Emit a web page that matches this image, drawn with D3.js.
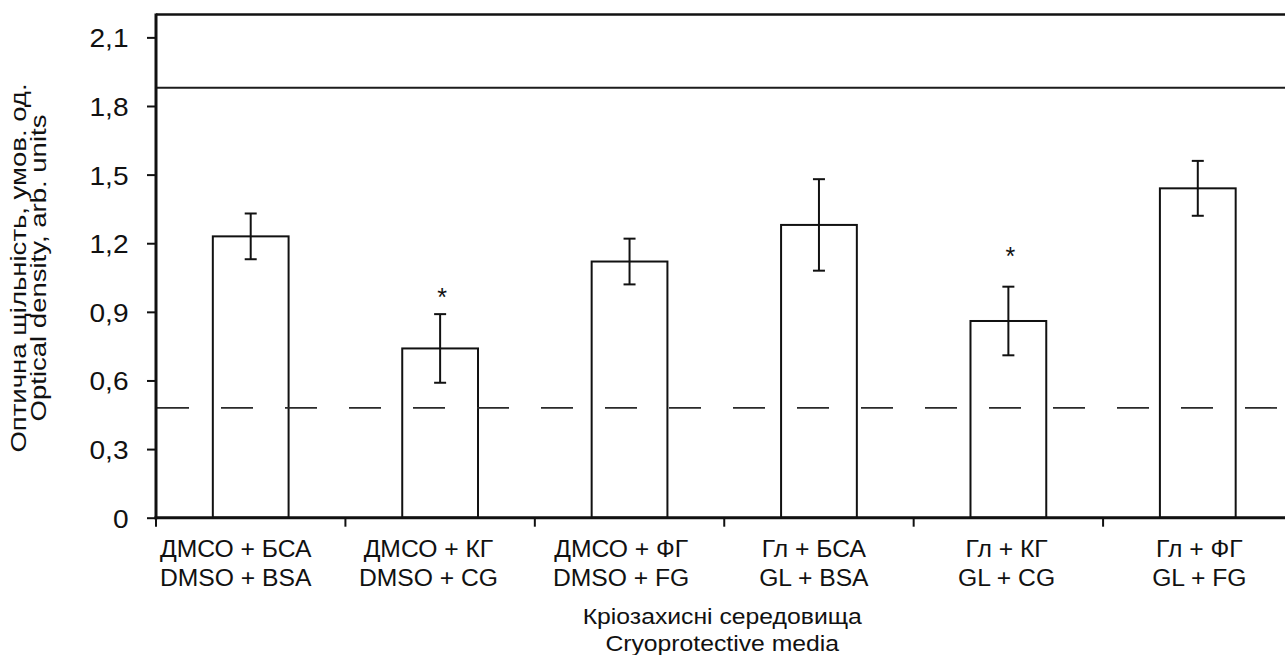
<!DOCTYPE html>
<html>
<head>
<meta charset="utf-8">
<script src="https://cdn.jsdelivr.net/npm/d3@7"></script>
<style>
  body { margin: 0; overflow: hidden; background: #fff; }
  svg { display: block; font-family: "Liberation Sans", Arial, sans-serif; }
</style>
</head>
<body>
<svg id="chart" width="1285" height="655"></svg>
<script>
// data
const categoriesUk = ['ДМСО + БСА', 'ДМСО + КГ', 'ДМСО + ФГ', 'Гл + БСА', 'Гл + КГ', 'Гл + ФГ'];
const categoriesEn = ['DMSO + BSA', 'DMSO + CG', 'DMSO + FG', 'GL + BSA', 'GL + CG', 'GL + FG'];
const means = [1.23, 0.74, 1.12, 1.28, 0.86, 1.44];
const errors = [0.10, 0.15, 0.10, 0.20, 0.15, 0.12];
const starLevels = [null, 0.99, null, null, 1.17, null]; // '*' marks
const controlLevel = 1.88;   // solid line
const baseLevel = 0.48;      // dashed line
const yTicks = [0, 0.3, 0.6, 0.9, 1.2, 1.5, 1.8, 2.1];
const yTitle = ['Оптична щільність, умов. од.', 'Optical density, arb. units'];
const xTitle = ['Кріозахисні середовища', 'Cryoprotective media'];

const svg = d3.select('svg#chart');
const margin = {top: 14.5, left: 156};
const plotRight = 1292.5, plotBottom = 517.7;
const ink = '#111';

const x = d3.scaleBand()
  .domain(d3.range(means.length))
  .range([margin.left, plotRight])
  .paddingInner(0).paddingOuter(0);

const y = d3.scaleLinear()
  .domain([0, 2.2])
  .range([plotBottom, margin.top]);

const fmt = (v) => d3.format('.1f')(v).replace('.', ',').replace(/^0,0$/, '0');
const barW = x.bandwidth() * 0.4;
const cx = (i) => x(i) + x.bandwidth() / 2;

// frame top
svg.append('line')
  .attr('x1', margin.left).attr('x2', plotRight)
  .attr('y1', y(2.2)).attr('y2', y(2.2))
  .attr('stroke', ink).attr('stroke-width', 2.3);

// bars
const g = svg.append('g');
g.selectAll('rect.bar').data(means).enter().append('rect')
  .attr('class', 'bar')
  .attr('x', (d, i) => cx(i) - barW / 2)
  .attr('y', (d) => y(d))
  .attr('width', barW)
  .attr('height', (d) => y(0) - y(d))
  .attr('fill', '#fff')
  .attr('stroke', ink).attr('stroke-width', 2);

// reference lines
svg.append('line')
  .attr('x1', margin.left).attr('x2', plotRight)
  .attr('y1', y(controlLevel)).attr('y2', y(controlLevel))
  .attr('stroke', '#1c1c1c').attr('stroke-width', 2);

svg.append('line')
  .attr('x1', margin.left + 1).attr('x2', plotRight)
  .attr('y1', y(baseLevel)).attr('y2', y(baseLevel))
  .attr('stroke', '#2a2a2a').attr('stroke-width', 1.7)
  .attr('stroke-dasharray', '32,32');

// error bars
const eb = g.selectAll('g.err').data(means).enter().append('g').attr('class', 'err')
  .attr('stroke', ink).attr('stroke-width', 2);
eb.append('line')
  .attr('x1', (d, i) => cx(i)).attr('x2', (d, i) => cx(i))
  .attr('y1', (d, i) => y(d + errors[i])).attr('y2', (d, i) => y(d - errors[i]));
eb.append('line')
  .attr('x1', (d, i) => cx(i) - 6).attr('x2', (d, i) => cx(i) + 6)
  .attr('y1', (d, i) => y(d + errors[i])).attr('y2', (d, i) => y(d + errors[i]));
eb.append('line')
  .attr('x1', (d, i) => cx(i) - 6).attr('x2', (d, i) => cx(i) + 6)
  .attr('y1', (d, i) => y(d - errors[i])).attr('y2', (d, i) => y(d - errors[i]));

// significance stars
svg.selectAll('text.star').data(starLevels.map((v, i) => ({v, i})).filter((d) => d.v !== null))
  .enter().append('text')
  .attr('class', 'star')
  .attr('text-anchor', 'middle')
  .attr('font-size', 25)
  .attr('fill', ink)
  .attr('transform', (d) => `translate(${cx(d.i) + 2},${y(d.v) + 14.5})`)
  .text('*');

// y axis
const yAxis = svg.append('g')
  .attr('transform', `translate(${margin.left},0)`)
  .call(d3.axisLeft(y).tickValues(yTicks).tickFormat(fmt).tickSize(9).tickSizeOuter(0));
yAxis.select('.domain').attr('stroke', ink).attr('stroke-width', 3)
  .attr('d', `M0,${plotBottom + 1.5}V${margin.top - 1}`);
yAxis.selectAll('.tick line').attr('stroke', ink).attr('stroke-width', 2);
yAxis.selectAll('.tick text')
  .attr('x', null).attr('dy', null)
  .attr('transform', 'translate(-27.5,9.4) scale(1.08,1)')
  .attr('font-size', 26)
  .attr('font-family', '"Liberation Sans", Arial, sans-serif')
  .attr('fill', ink);

// x axis (ticks at category boundaries)
const xAxis = svg.append('g');
xAxis.append('line')
  .attr('x1', margin.left - 1.5).attr('x2', plotRight)
  .attr('y1', plotBottom).attr('y2', plotBottom)
  .attr('stroke', ink).attr('stroke-width', 3);
xAxis.selectAll('line.tk').data(d3.range(means.length + 1)).enter().append('line')
  .attr('class', 'tk')
  .attr('x1', (i) => x.step() * i + margin.left).attr('x2', (i) => x.step() * i + margin.left)
  .attr('y1', plotBottom).attr('y2', plotBottom + 9)
  .attr('stroke', ink).attr('stroke-width', 2);

const lab = xAxis.selectAll('g.lab').data(d3.range(means.length)).enter().append('g')
  .attr('class', 'lab')
  .attr('transform', (i) => `translate(${cx(i) - 15 + i * 3.3},0)`);
lab.append('text')
  .attr('text-anchor', 'middle').attr('font-size', 23.5).attr('fill', ink)
  .attr('transform', 'translate(0,557) scale(1.05,1)')
  .text((i) => categoriesUk[i]);
lab.append('text')
  .attr('text-anchor', 'middle').attr('font-size', 23.5).attr('fill', ink)
  .attr('transform', 'translate(0,585.5) scale(1.05,1)')
  .text((i) => categoriesEn[i]);

// axis titles
const midX = (margin.left + plotRight) / 2;
xTitle.forEach((t, k) => {
  svg.append('text')
    .attr('text-anchor', 'middle').attr('font-size', 22.5).attr('fill', ink)
    .attr('transform', `translate(${midX - 2},${624 + k * 27}) scale(1.1,1)`)
    .text(t);
});
yTitle.forEach((t, k) => {
  svg.append('text')
    .attr('text-anchor', 'middle').attr('font-size', 21.5).attr('fill', ink)
    .attr('transform', `translate(${26 + k * 20},268) rotate(-90) scale(1.28,1)`)
    .text(t);
});
</script>
</body>
</html>
